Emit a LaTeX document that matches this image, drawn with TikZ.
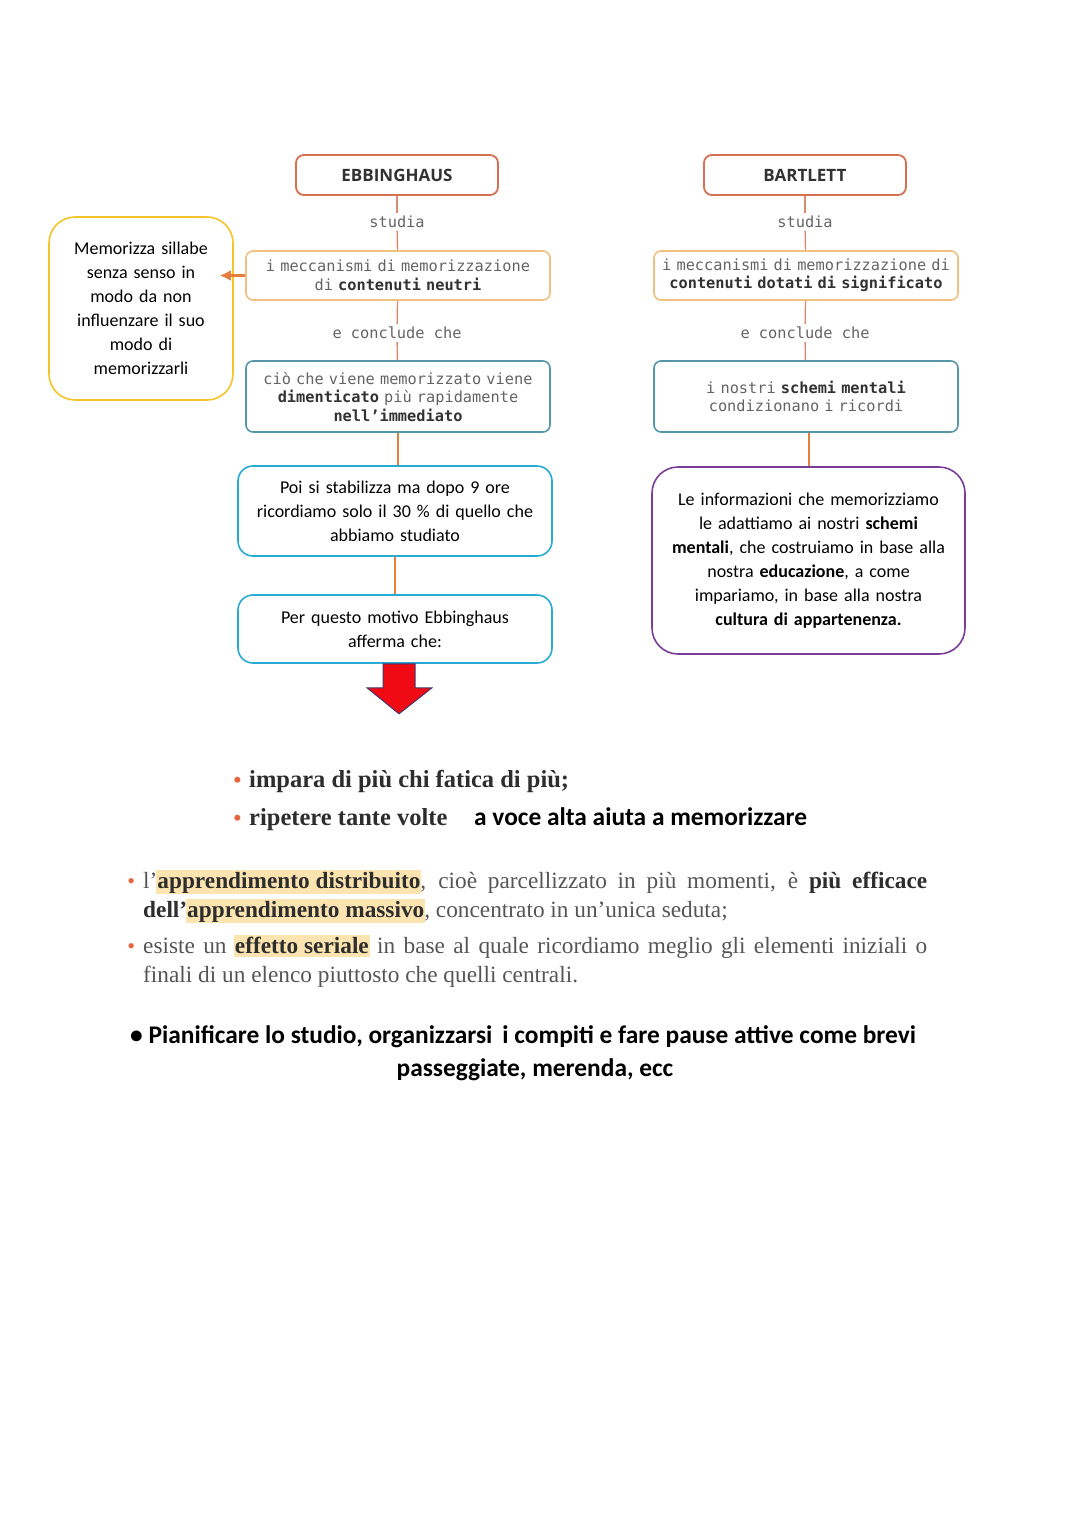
\documentclass[tikz,border=0pt]{standalone}
\usepackage{fontspec}
\setmainfont{Liberation Serif}
\newfontfamily\calibri{Carlito}
\newfontfamily\bookmono{DejaVu Sans Mono}
\newfontfamily\booksans{Open Sans}
\usepackage{tikz}
\usetikzlibrary{arrows.meta}

\definecolor{headred}{RGB}{214,112,82}
\definecolor{mechorange}{RGB}{240,192,128}
\definecolor{conclteal}{RGB}{86,150,170}
\definecolor{linkbrown}{RGB}{214,140,112}
\definecolor{linkorange}{RGB}{228,126,58}
\definecolor{poicyan}{RGB}{40,172,212}
\definecolor{memoyellow}{RGB}{245,196,40}
\definecolor{infopurple}{RGB}{122,62,150}
\definecolor{bookgray}{RGB}{100,100,100}
\definecolor{bookdark}{RGB}{50,50,50}
\definecolor{seriftext}{RGB}{85,85,85}
\definecolor{serifdark}{RGB}{45,45,45}
\definecolor{hilite}{RGB}{252,228,176}
\definecolor{dotorange}{RGB}{228,100,60}
\definecolor{arrowred}{RGB}{240,10,20}
\definecolor{arrowrim}{RGB}{70,55,110}

\newcommand{\evid}[1]{{\fboxsep=1pt\kern-1pt\colorbox{hilite}{\rule[-3pt]{0pt}{20pt}#1}\kern-1pt}}
\newcommand{\dotitem}{\llap{{\fontsize{22}{22}\selectfont\textcolor{dotorange}{\textbullet}}\hspace{8pt}}}

\begin{document}
\begin{tikzpicture}
      [x=1pt,y=-1pt,inner sep=0pt,
       head/.style={rectangle,rounded corners=8pt,draw=headred,line width=1.8pt,fill=white,
         minimum width=202pt,minimum height=40pt,text=bookdark,
         font=\booksans\bfseries\fontsize{17}{20}\selectfont},
       bookbox/.style={rectangle,rounded corners=7pt,line width=1.6pt,fill=white,
         text width=304pt,align=center,text=bookgray,
         font=\bookmono\fontsize{15.3}{18.5}\selectfont},
       verb/.style={inner sep=3pt,text=bookgray,font=\bookmono\fontsize{15.3}{17}\selectfont},
       notebox/.style={rectangle,rounded corners=15pt,line width=1.6pt,fill=white,
         align=center,text=black,font=\calibri\fontsize{18}{24}\selectfont},
       link/.style={linkbrown,line width=1.4pt},
       strong/.style={linkorange,line width=2pt},
       pointer/.style={linkorange,line width=2.4pt,-{Latex[length=11pt,width=11pt]}},
       bigarrow/.style={fill=arrowred,draw=arrowrim,line width=1pt,line join=miter},
       point/.style={anchor=base west,text=seriftext,font=\fontsize{23.3}{27}\selectfont},
       pointbold/.style={anchor=base west,text=serifdark,font=\bfseries\fontsize{24.5}{28}\selectfont},
       plan/.style={text=black,font=\calibri\bfseries\fontsize{25.4}{30}\selectfont}]
      \useasboundingbox (0,0) rectangle (1080,1527);

      \node (ebb) at (397,175) [head] {EBBINGHAUS};
      \node (st1) at (397,222) [verb] {studia};
      \node (mech1) at (398,275.5) [bookbox,draw=mechorange,minimum height=49pt]
        {i meccanismi di memorizzazione\\di \textcolor{bookdark}{\bfseries contenuti neutri}};
      \node (ec1) at (397,333) [verb] {e conclude che};
      \node (concl1) at (398,396.5) [bookbox,draw=conclteal,minimum height=71pt]
        {ciò che viene memorizzato viene\\\textcolor{bookdark}{\bfseries dimenticato} più rapidamente\\\textcolor{bookdark}{\bfseries nell’immediato}};
      \node (poi) at (395,511) [notebox,draw=poicyan,text width=314pt,minimum height=90pt]
        {Poi si stabilizza ma dopo 9 ore\\ricordiamo solo il 30 \% di quello che\\abbiamo studiato};
      \node (per) at (395,629) [notebox,draw=poicyan,text width=314pt,minimum height=68pt]
        {Per questo motivo Ebbinghaus\\afferma che:};
      \node (memo) at (141,308.5) [notebox,draw=memoyellow,rounded corners=26pt,
        text width=184pt,minimum height=183pt]
        {Memorizza sillabe\\senza senso in\\modo da non\\influenzare il suo\\modo di\\memorizzarli};

      \node (bart) at (805,175) [head] {BARTLETT};
      \node (st2) at (805,222) [verb] {studia};
      \node (mech2) at (806,275.5) [bookbox,draw=mechorange,minimum height=49pt]
        {i meccanismi di memorizzazione di\\\textcolor{bookdark}{\bfseries contenuti dotati di significato}};
      \node (ec2) at (805,333) [verb] {e conclude che};
      \node (concl2) at (806,396.5) [bookbox,draw=conclteal,minimum height=71pt]
        {i nostri \textcolor{bookdark}{\bfseries schemi mentali}\\condizionano i ricordi};
      \node (info) at (808.5,560.5) [notebox,draw=infopurple,rounded corners=26pt,
        text width=313pt,minimum height=187pt]
        {Le informazioni che memorizziamo\\le adattiamo ai nostri \textbf{schemi}\\
         \textbf{mentali}, che costruiamo in base alla\\nostra \textbf{educazione}, a come\\
         impariamo, in base alla nostra\\\textbf{cultura di appartenenza.}};

      \coordinate (memotip) at ([xshift=-14pt]mech1.west -| memo.east);

      \draw[link] (ebb) -- (st1);
      \draw[link] (st1) -- (mech1);
      \draw[link] (mech1) -- (ec1);
      \draw[link] (ec1) -- (concl1);
      \draw[strong] (concl1) -- (concl1 |- poi.north);
      \draw[strong] (poi) -- (per);
      \draw[pointer] (mech1.west) -- (memotip);

      \draw[link] (bart) -- (st2);
      \draw[link] (st2) -- (mech2);
      \draw[link] (mech2) -- (ec2);
      \draw[link] (ec2) -- (concl2);
      \draw[strong] ([xshift=3pt]concl2.south) -- ([xshift=3pt]concl2.south |- info.north);

      \draw[bigarrow] ([xshift=-12pt]per.south) -- ++(0,24) -- ++(-16,0) -- ++(32,26)
        -- ++(33,-26) -- ++(-17,0) -- ++(0,-24) -- cycle;

      \node (imp) at (249,787) [pointbold] {\dotitem impara di più chi fatica di più;};
      \node (rip) at (249,825) [pointbold] {\dotitem ripetere tante volte};
      \node (voce) at (474,825) [anchor=base west,plan] {a voce alta aiuta a memorizzare};

      \node (distr) at (143,888) [point]
        {\dotitem\makebox[784pt][s]{l’\evid{\textcolor{serifdark}{\bfseries apprendimento distribuito}}, cioè parcellizzato in più momenti, è \textcolor{serifdark}{\bfseries più efficace}}};
      \node (mass) at (143,917) [point]
        {\textcolor{serifdark}{\bfseries dell’}\evid{\textcolor{serifdark}{\bfseries apprendimento massivo}}, concentrato in un’unica seduta;};
      \node (seri) at (143,953) [point]
        {\dotitem\makebox[784pt][s]{esiste un \evid{\textcolor{serifdark}{\bfseries effetto seriale}} in base al quale ricordiamo meglio gli elementi iniziali o}};
      \node (fin) at (143,982) [point] {finali di un elenco piuttosto che quelli centrali.};

      \node (plan1) at (130,1043) [anchor=base west,plan]
        {• Pianificare lo studio, organizzarsi\, i compiti e fare pause attive come brevi};
      \node (plan2) at (535,1076) [anchor=base,plan] {passeggiate, merenda, ecc};
\end{tikzpicture}
\end{document}
